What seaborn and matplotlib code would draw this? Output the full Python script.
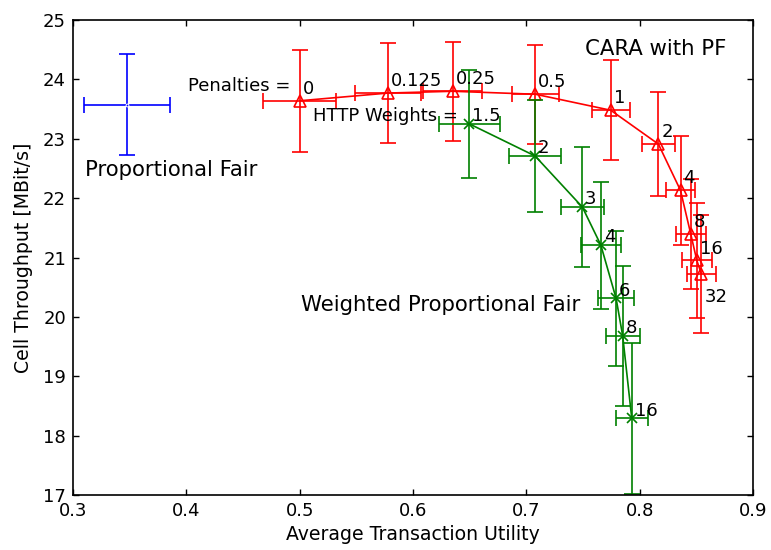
import matplotlib
matplotlib.use("Agg")
import matplotlib.pyplot as plt
import seaborn as sns

# Proportional Fair baseline
pf_util = [0.3477]
pf_util_err = [0.038]
pf_tput = [23.57]
pf_tput_err = [0.85]

# CARA with PF, one point per penalty setting
cara_labels = ["0", "0.125", "0.25", "0.5", "1", "2", "4", "8", "16", "32"]
cara_util = [0.500, 0.578, 0.635, 0.708, 0.7745, 0.8165, 0.836, 0.845, 0.8504, 0.8545]
cara_util_err = [0.032, 0.029, 0.026, 0.021, 0.017, 0.0144, 0.013, 0.0134, 0.013, 0.013]
cara_tput = [23.64, 23.77, 23.80, 23.75, 23.48, 22.91, 22.13, 21.40, 20.95, 20.72]
cara_tput_err = [0.86, 0.84, 0.83, 0.83, 0.84, 0.87, 0.92, 0.93, 0.97, 0.99]

# Weighted Proportional Fair, one point per HTTP weight
wpf_labels = ["1.5", "2", "3", "4", "6", "8", "16"]
wpf_util = [0.6498, 0.7077, 0.7494, 0.7657, 0.7792, 0.785, 0.793]
wpf_util_err = [0.0265, 0.0228, 0.0188, 0.0177, 0.0157, 0.015, 0.014]
wpf_tput = [23.25, 22.71, 21.85, 21.21, 20.31, 19.68, 18.29]
wpf_tput_err = [0.905, 0.95, 1.01, 1.07, 1.13, 1.18, 1.27]

x_ticks = [0.3, 0.4, 0.5, 0.6, 0.7, 0.8, 0.9]
y_ticks = [17, 18, 19, 20, 21, 22, 23, 24, 25]

sns.set_style("ticks", {"xtick.direction": "in", "ytick.direction": "in"})
plt.rcParams.update({
    "xtick.top": True,
    "ytick.right": True,
    "font.family": ["DejaVu Sans"],
    "text.color": "black",
    "axes.labelcolor": "black",
    "xtick.color": "black",
    "ytick.color": "black",
    "axes.edgecolor": "black",
})

fig = plt.figure(figsize=(7.71, 5.5), dpi=100)
ax = fig.add_axes([0.0947, 0.1, 0.882, 0.8636])

lw = 1.2
cap = 6

# Proportional Fair
ax.errorbar(pf_util, pf_tput, xerr=pf_util_err, yerr=pf_tput_err, fmt="none",
            ecolor="b", elinewidth=lw, capsize=cap, capthick=lw)
sns.lineplot(x=pf_util, y=pf_tput, ax=ax, color="b", marker=".", markersize=4,
             linewidth=0, estimator=None)

# CARA with PF
ax.errorbar(cara_util, cara_tput, xerr=cara_util_err, yerr=cara_tput_err, fmt="none",
            ecolor="r", elinewidth=lw, capsize=cap, capthick=lw)
sns.lineplot(x=cara_util, y=cara_tput, ax=ax, color="r", sort=False, estimator=None,
             linewidth=lw, marker="^", markersize=8, markerfacecolor="none",
             markeredgecolor="r", markeredgewidth=lw)

# Weighted Proportional Fair
ax.errorbar(wpf_util, wpf_tput, xerr=wpf_util_err, yerr=wpf_tput_err, fmt="none",
            ecolor="g", elinewidth=lw, capsize=cap, capthick=lw)
sns.lineplot(x=wpf_util, y=wpf_tput, ax=ax, color="g", sort=False, estimator=None,
             linewidth=lw, marker="x", markersize=7, markeredgecolor="g",
             markeredgewidth=lw)

ann_fs = 13
for lab, xv, yv in zip(cara_labels, cara_util, cara_tput):
    dy = -20 if lab == "32" else 5
    ax.annotate(lab, (xv, yv), xytext=(2, dy), textcoords="offset points",
                fontsize=ann_fs, ha="left", va="baseline")
for lab, xv, yv in zip(wpf_labels, wpf_util, wpf_tput):
    ax.annotate(lab, (xv, yv), xytext=(2, 2), textcoords="offset points",
                fontsize=ann_fs, ha="left", va="baseline")

ax.annotate("Penalties =", (cara_util[0], cara_tput[0]), xytext=(-6.7, 6.7),
            textcoords="offset points", fontsize=ann_fs, ha="right", va="baseline")
ax.annotate("HTTP Weights =", (wpf_util[0], wpf_tput[0]), xytext=(-8, 2.2),
            textcoords="offset points", fontsize=ann_fs, ha="right", va="baseline")

big_fs = 15.3
ax.text(0.752, 24.52, "CARA with PF", fontsize=big_fs, ha="left", va="center")
ax.text(0.3106, 22.47, "Proportional Fair", fontsize=big_fs, ha="left", va="center")
ax.text(0.5012, 20.2, "Weighted Proportional Fair", fontsize=big_fs, ha="left", va="center")

ax.set_xlim(0.3, 0.9)
ax.set_ylim(17, 25)
ax.set_xticks(x_ticks)
ax.set_xticklabels([f"{t:.1f}" for t in x_ticks])
ax.set_yticks(y_ticks)
ax.set_yticklabels([str(t) for t in y_ticks])
ax.tick_params(axis="both", which="major", length=4, width=1, labelsize=13,
               direction="in", top=True, right=True, pad=5, colors="black")
for s in ax.spines.values():
    s.set_visible(True)
    s.set_linewidth(1.2)
    s.set_color("black")

ax.set_xlabel("Average Transaction Utility", fontsize=13.6, labelpad=4)
ax.set_ylabel("Cell Throughput [MBit/s]", fontsize=13.6, labelpad=7)

fig.savefig("out.png", dpi=100)
